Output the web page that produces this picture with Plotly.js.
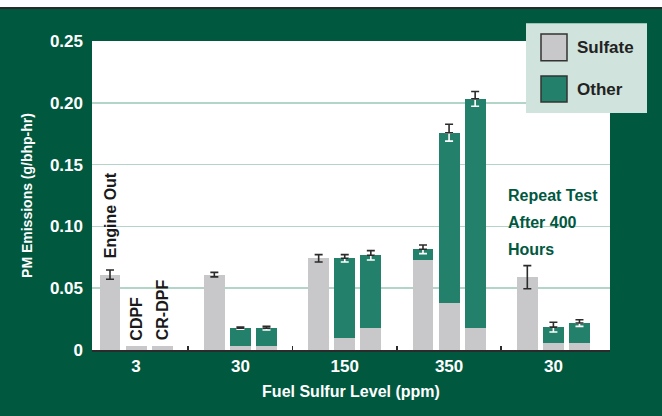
<!DOCTYPE html>
<html>
<head>
<meta charset="utf-8">
<script src="https://cdn.plot.ly/plotly-3.0.1.min.js"></script>
<style>
  html, body { margin: 0; padding: 0; background: #ffffff; }
  #strip { height: 7px; background: #ffffff; border-bottom: 2px solid #2a2a2a; }
  #chart { width: 662px; height: 407px; }
</style>
</head>
<body>
<div id="strip"></div>
<div id="chart"></div>
<script>
// ---- data ----
const groupLabels = ['3', '30', '150', '350', '30'];
const configLabels = ['Engine Out', 'CDPF', 'CR-DPF'];
// per bar, grouped by fuel sulfur level: [Engine Out, CDPF, CR-DPF] x 5 groups
const sulfate = [0.061, 0.003, 0.003,  0.061, 0.003, 0.003,  0.0742, 0.0097, 0.0177,  0.0726, 0.0379, 0.0177,  0.0589, 0.0056, 0.0056];
const other   = [0,     0,     0,      0,     0.0147, 0.0147, 0,     0.0645, 0.0589,  0.0089, 0.1379, 0.1855,  0,      0.0129, 0.0162];
const errors  = [0.0037, 0,    0,      0.0018, 0.0008, 0.0015, 0.003, 0.003, 0.0038,   0.0035, 0.0068, 0.006,   0.0094, 0.0039, 0.0027];
const yTickVals = [0, 0.05, 0.10, 0.15, 0.20, 0.25];
const yTickText = ['0', '0.05', '0.10', '0.15', '0.20', '0.25'];
const legendNames = ['Sulfate', 'Other'];
const noteLines = ['Repeat Test', 'After 400', 'Hours'];

// ---- positions derived from group / bar index ----
const slotsPerGroup = configLabels.length + 1;
const xPos = [], totals = [];
groupLabels.forEach((g, gi) => {
  configLabels.forEach((c, bi) => { xPos.push(gi * slotsPerGroup + bi); });
});
sulfate.forEach((s, i) => totals.push(s + other[i]));
const groupCenters = groupLabels.map((g, gi) => gi * slotsPerGroup + 1);
const boundaries = groupLabels.slice(1).map((g, gi) => (gi + 1) * slotsPerGroup - 1);
const xRange = [-0.69, 19.17];
boundaries.push(xRange[1]);

const FONT = '"Liberation Sans", Arial, sans-serif';
const BG = '#00583F';
const GREEN = '#23806B';
const GRAY = '#C8C8CA';
const DARK = '#2b2b2b';

const topIsOther = other.map(v => v > 0);

const traces = [
  { type: 'bar', name: legendNames[0], x: xPos, y: sulfate, width: 0.8,
    marker: { color: GRAY, line: { width: 0 } }, hoverinfo: 'y' },
  { type: 'bar', name: legendNames[1], x: xPos, y: other, width: 0.8,
    marker: { color: GREEN, line: { width: 0 } }, hoverinfo: 'y' },
  // white lower half of error bar inside green segments
  { type: 'scatter', mode: 'markers', xaxis: 'x2', yaxis: 'y2', x: xPos,
    y: totals.map((t, i) => (errors[i] > 0 && topIsOther[i]) ? t : null),
    marker: { size: 1, opacity: 0 }, hoverinfo: 'skip', showlegend: false,
    error_y: { type: 'data', symmetric: false, array: errors.map(() => 0), arrayminus: errors,
      color: '#ffffff', thickness: 1.6, width: 4 } },
  // dark error bars
  { type: 'scatter', mode: 'markers', xaxis: 'x2', yaxis: 'y2', x: xPos,
    y: totals.map((t, i) => errors[i] > 0 ? t : null),
    marker: { size: 1, opacity: 0 }, hoverinfo: 'skip', showlegend: false,
    error_y: { type: 'data', symmetric: false, array: errors,
      arrayminus: errors.map((e, i) => topIsOther[i] ? 0 : e),
      color: DARK, thickness: 1.6, width: 4 } }
];

// pixel helpers for the drawn legend (paper coordinates)
const L = 92, W = 518;
const px = p => (p - L) / W;
const py = p => (350 - p) / 309;
const dy = p => (350 - p) / 1240;   // page pixel -> data y (for text placement only)

const shapes = [
  { type: 'rect', xref: 'paper', yref: 'paper', x0: px(526), x1: px(647), y0: py(113), y1: py(23.3),
    fillcolor: '#D0E3DD', line: { width: 0 }, layer: 'above' },
  { type: 'rect', xref: 'paper', yref: 'paper', x0: px(541), x1: px(567), y0: py(60.7), y1: py(34),
    fillcolor: GRAY, line: { width: 1.5, color: '#333333' }, layer: 'above' },
  { type: 'rect', xref: 'paper', yref: 'paper', x0: px(541), x1: px(567), y0: py(102), y1: py(76),
    fillcolor: GREEN, line: { width: 1.5, color: '#333333' }, layer: 'above' }
];

const labelFont = { family: FONT, size: 16, color: '#1a1a1a', weight: 'bold' };
const legendFont = { family: FONT, size: 17, color: '#222222', weight: 'bold' };
const noteFont = { family: FONT, size: 16, color: BG, weight: 'bold' };
const annotations = [
  { xref: 'paper', yref: 'paper', x: px(575), y: py(47), xanchor: 'left', yanchor: 'middle',
    text: legendNames[0], showarrow: false, font: legendFont },
  { xref: 'paper', yref: 'paper', x: px(575), y: py(89), xanchor: 'left', yanchor: 'middle',
    text: legendNames[1], showarrow: false, font: legendFont },
  { x: xPos[0], y: totals[0] + errors[0] + 0.008, xanchor: 'center', yanchor: 'bottom', textangle: -90,
    text: configLabels[0], showarrow: false, font: labelFont },
  { x: xPos[1], y: totals[1] + 0.003, xanchor: 'center', yanchor: 'bottom', textangle: -90,
    text: configLabels[1], showarrow: false, font: labelFont },
  { x: xPos[2], y: totals[2] + 0.003, xanchor: 'center', yanchor: 'bottom', textangle: -90,
    text: configLabels[2], showarrow: false, font: labelFont }
];
[195, 222, 249].forEach((yy, k) => annotations.push({
  x: 15.18, y: dy(yy), xanchor: 'left', yanchor: 'middle', align: 'left',
  text: noteLines[k], showarrow: false, font: noteFont
}));

const layout = {
  width: 662, height: 407,
  margin: { l: 92, r: 52, t: 32, b: 66 },
  paper_bgcolor: BG, plot_bgcolor: '#ffffff',
  barmode: 'stack', showlegend: false,
  font: { family: FONT, color: '#ffffff' },
  xaxis: {
    range: xRange, tickmode: 'array', tickvals: groupCenters, ticktext: groupLabels,
    showgrid: false, zeroline: false, showline: true, linecolor: DARK, linewidth: 2,
    ticks: '', tickfont: { family: FONT, size: 17, color: '#ffffff', weight: 'bold' },
    title: { text: 'Fuel Sulfur Level (ppm)', font: { family: FONT, size: 16, color: '#ffffff', weight: 'bold' }, standoff: 10 },
    fixedrange: true
  },
  xaxis2: {
    overlaying: 'x', side: 'bottom', anchor: 'y2', range: xRange,
    tickmode: 'array', tickvals: boundaries, ticks: 'inside', ticklen: 4, tickwidth: 1.5, tickcolor: DARK,
    showticklabels: false, showgrid: false, zeroline: false, showline: false
  },
  yaxis: {
    range: [0, 0.25], tickmode: 'array', tickvals: yTickVals.slice(1, -1),
    showticklabels: false, showgrid: true, gridcolor: '#B3D5C8', gridwidth: 1.5,
    zeroline: false, showline: false, ticks: ''
  },
  yaxis2: {
    overlaying: 'y', side: 'left', anchor: 'x2', range: [0, 0.25],
    tickmode: 'array', tickvals: yTickVals, ticktext: yTickText,
    showgrid: false, zeroline: false, showline: false, ticks: '',
    ticklabelstandoff: 8,
    tickfont: { family: FONT, size: 17, color: '#ffffff', weight: 'bold' },
    title: { text: 'PM Emissions (g/bhp-hr)', font: { family: FONT, size: 14, color: '#ffffff', weight: 'bold' }, standoff: 14 }
  },
  shapes: shapes,
  annotations: annotations
};

Plotly.newPlot('chart', traces, layout, { displayModeBar: false, staticPlot: true });
</script>
</body>
</html>
